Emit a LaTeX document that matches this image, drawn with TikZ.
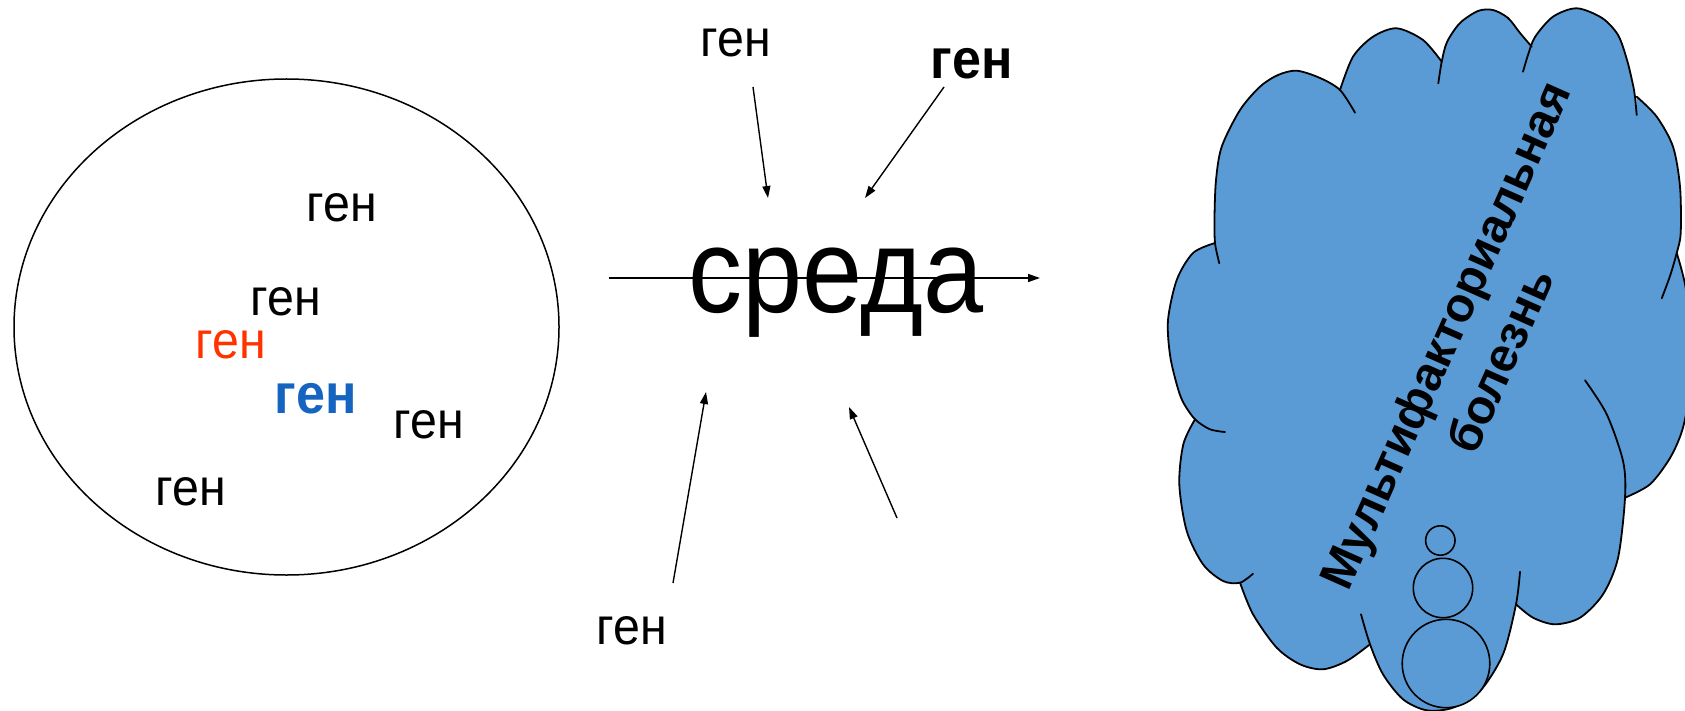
\documentclass[tikz,border=0pt]{standalone}
\usepackage{fontspec}
\setmainfont{Liberation Sans}
\usetikzlibrary{arrows.meta}
\definecolor{cloudblue}{HTML}{5B9BD5}
\definecolor{genred}{HTML}{FF3300}
\definecolor{genblue}{HTML}{1565C0}

\begin{document}
\begin{tikzpicture}[x=1pt,y=-1pt,
  gene/.style={font=\fontsize{52}{60}\selectfont, inner sep=0pt, anchor=base, xscale=0.93},
  boldgene/.style={gene, font=\fontsize{56}{64}\selectfont\bfseries},
  arr/.style={line width=1.4pt, -{Triangle[length=12pt,width=8pt]}},
  lobe/.style={line width=1.8pt, line join=round, line cap=round},
  bubble/.style={fill=cloudblue, draw=black, line width=1.6pt},
  cloudtext/.style={font=\fontsize{48}{56}\selectfont\bfseries, inner sep=0pt, anchor=base, rotate=66}]

\useasboundingbox (0,0) rectangle (1685,711);
\clip (0,0) rectangle (1685,711);

% genome
\draw[line width=1.5pt] (286.5,327) ellipse [x radius=272.5, y radius=248];
\node[gene] (g1) at (342,222) {ген};
\node[gene] (g2) at (286,315) {ген};
\node[gene, text=genred] (g3) at (231,358) {ген};
\node[boldgene, text=genblue] (g4) at (316,413) {ген};
\node[gene] (g5) at (429,438) {ген};
\node[gene] (g6) at (191,505) {ген};

% environment
\node[font=\fontsize{120}{130}\selectfont, inner sep=0pt, anchor=base, xscale=0.9] (env) at (836,312) {среда};
\node[gene] (top) at (736,57) {ген};
\node[boldgene] (topb) at (972,79) {ген};
\node[gene] (bot) at (632,644) {ген};

\coordinate (hs) at (609,278);  \coordinate (he) at (1040,278);
\coordinate (a1s) at (753,87);  \coordinate (a1e) at (768,198);
\coordinate (a2s) at (944,87);  \coordinate (a2e) at (865,198);
\coordinate (a3s) at (673,583); \coordinate (a3e) at (706,392);
\coordinate (a4s) at (897,518); \coordinate (a4e) at (849,407);
\draw[arr] (hs) -- (he);
\draw[arr] (a1s) -- (a1e);
\draw[arr] (a2s) -- (a2e);
\draw[arr] (a3s) -- (a3e);
\draw[arr] (a4s) -- (a4e);

% cloud body
\fill[cloudblue]
  plot[smooth] coordinates {(1225,432) (1210,429.3) (1195,419.3) (1183,402) (1176.7,384.3) (1170,355) (1168,320) (1176.7,280) (1193,253) (1215,243)}
  -- plot[smooth] coordinates {(1219.3,263.3) (1215,243) (1214.5,217) (1216,180) (1221.7,146.7) (1240,110) (1260,86.7) (1278,75) (1296.7,70.7) (1320,78) (1340,90) (1355,112.7)}
  -- plot[smooth] coordinates {(1340,90) (1353,56.7) (1373,36.7) (1396.7,28.3) (1423,40) (1441.7,61.7)}
  -- plot[smooth] coordinates {(1438.3,83.3) (1441.7,61.7) (1447,42) (1460,23) (1478,11) (1493,10) (1508,18) (1520,33) (1531.7,46.7)}
  -- plot[smooth] coordinates {(1523,71.7) (1528,55) (1535,37) (1553,16.7) (1576.7,8.3) (1602,18) (1618,35) (1627,60) (1633,85) (1635,97) (1636.7,115)}
  -- plot[smooth] coordinates {(1636.7,96.7) (1656.7,116.7) (1673,146.7) (1680,186.7) (1680.7,233) (1676.7,253) (1670,276) (1661.7,298.3)}
  -- plot[smooth] coordinates {(1676.7,253) (1686,290) (1690,350) (1688,400) (1682,431) (1670,458) (1650,484.3) (1625,497.7)}
  -- plot[smooth] coordinates {(1585,380.3) (1606.7,414.3) (1623,461) (1625,497.7) (1618,558) (1603,594.3) (1580,617.7) (1555,624.3) (1533,617.7) (1516,604.3)}
  -- plot[smooth] coordinates {(1520,571.7) (1516,604.3) (1503,654.3) (1480,691) (1453,707.7) (1426.7,710.3) (1403,699.3) (1383,674.3) (1370,644.3) (1361,614.3)}
  -- plot[smooth] coordinates {(1370,644.3) (1346.7,661) (1323,669.3) (1300,664.3) (1276.7,647.7) (1253,614.3) (1240,582.7)}
  -- plot[smooth] coordinates {(1253,573.7) (1240,582.7) (1223,581) (1203,564.3) (1186.7,531) (1179.3,484.3) (1183.3,444.3) (1195,419.3)}
  -- cycle;

% cloud outline, one arc per lobe
\draw[lobe] plot[smooth] coordinates {(1225,432) (1210,429.3) (1195,419.3) (1183,402) (1176.7,384.3) (1170,355) (1168,320) (1176.7,280) (1193,253) (1215,243)};
\draw[lobe] plot[smooth] coordinates {(1219.3,263.3) (1215,243) (1214.5,217) (1216,180) (1221.7,146.7) (1240,110) (1260,86.7) (1278,75) (1296.7,70.7) (1320,78) (1340,90) (1355,112.7)};
\draw[lobe] plot[smooth] coordinates {(1340,90) (1353,56.7) (1373,36.7) (1396.7,28.3) (1423,40) (1441.7,61.7)};
\draw[lobe] plot[smooth] coordinates {(1438.3,83.3) (1441.7,61.7) (1447,42) (1460,23) (1478,11) (1493,10) (1508,18) (1520,33) (1531.7,46.7)};
\draw[lobe] plot[smooth] coordinates {(1523,71.7) (1528,55) (1535,37) (1553,16.7) (1576.7,8.3) (1602,18) (1618,35) (1627,60) (1633,85) (1635,97) (1636.7,115)};
\draw[lobe] plot[smooth] coordinates {(1636.7,96.7) (1656.7,116.7) (1673,146.7) (1680,186.7) (1680.7,233) (1676.7,253) (1670,276) (1661.7,298.3)};
\draw[lobe] plot[smooth] coordinates {(1676.7,253) (1686,290) (1690,350) (1688,400) (1682,431) (1670,458) (1650,484.3) (1625,497.7)};
\draw[lobe] plot[smooth] coordinates {(1585,380.3) (1606.7,414.3) (1623,461) (1625,497.7) (1618,558) (1603,594.3) (1580,617.7) (1555,624.3) (1533,617.7) (1516,604.3)};
\draw[lobe] plot[smooth] coordinates {(1520,571.7) (1516,604.3) (1503,654.3) (1480,691) (1453,707.7) (1426.7,710.3) (1403,699.3) (1383,674.3) (1370,644.3) (1361,614.3)};
\draw[lobe] plot[smooth] coordinates {(1370,644.3) (1346.7,661) (1323,669.3) (1300,664.3) (1276.7,647.7) (1253,614.3) (1240,582.7)};
\draw[lobe] plot[smooth] coordinates {(1253,573.7) (1240,582.7) (1223,581) (1203,564.3) (1186.7,531) (1179.3,484.3) (1183.3,444.3) (1195,419.3)};

% thought bubbles
\draw[bubble] (1446,663.5) ellipse [x radius=43.8, y radius=44.2];
\draw[bubble] (1443,588) circle [radius=29.7];
\draw[bubble] (1440.3,540.5) circle [radius=14.7];

\node[cloudtext] (d1) at (1460,342) {Мультифакториальная};
\node[cloudtext] (d2) at (1515,367) {болезнь};
\end{tikzpicture}
\end{document}
